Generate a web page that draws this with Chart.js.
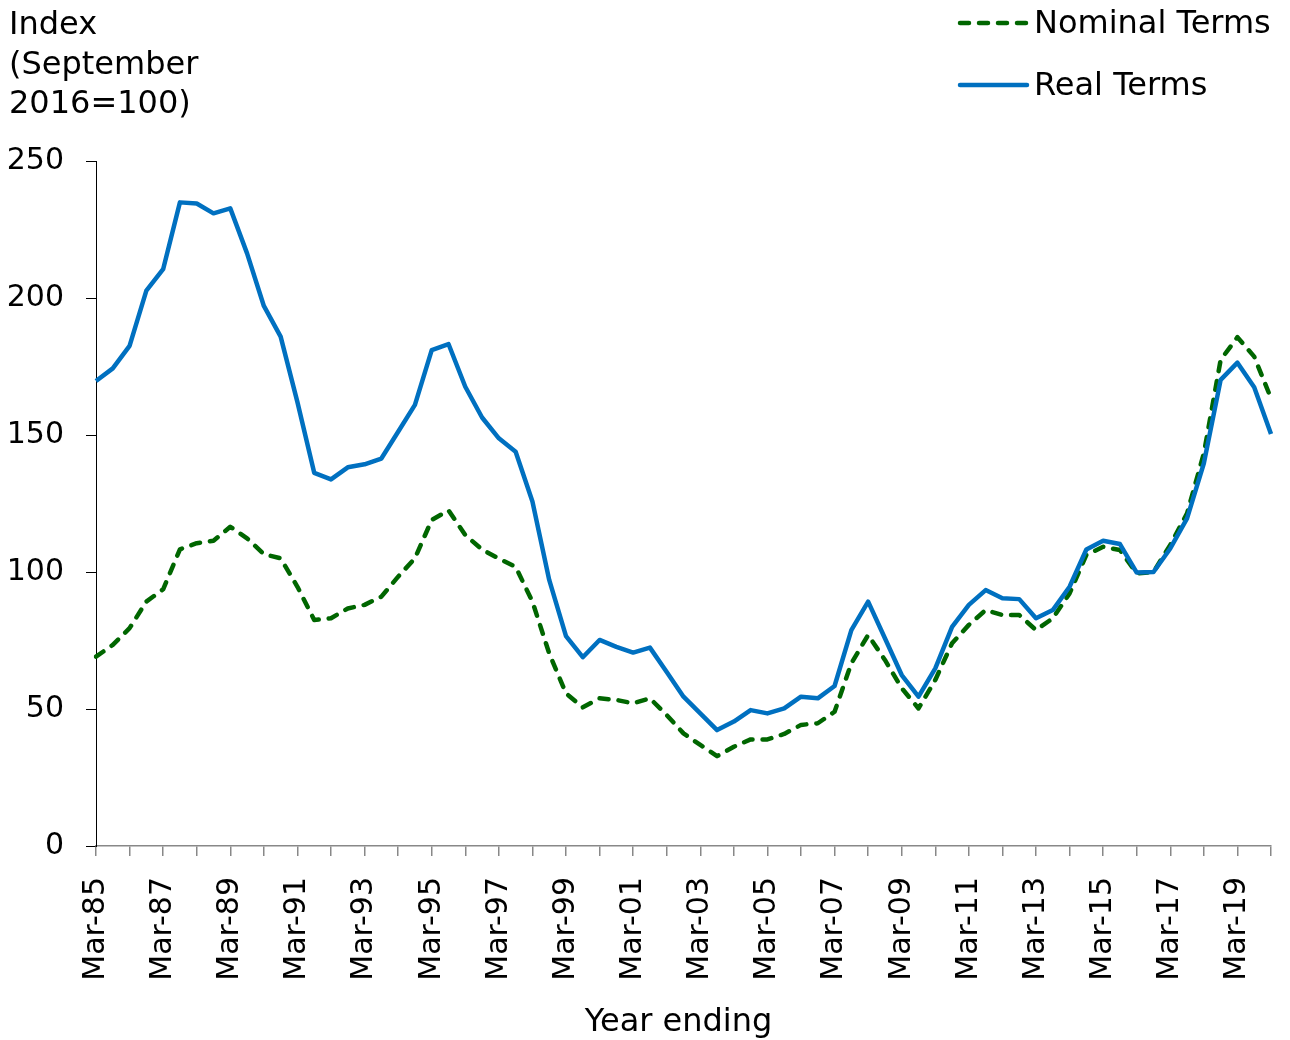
<!DOCTYPE html>
<html>
<head>
<meta charset="utf-8">
<script src="https://cdn.jsdelivr.net/npm/chart.js@4.4.1/dist/chart.umd.min.js"></script>
<style>
  body { margin: 0; background: #fff; }
  canvas { display: block; }
</style>
</head>
<body>
<canvas id="myChart" width="1290" height="1040"></canvas>
<script>
// half-yearly periods, Mar-85 .. Mar-20
let periods = [
  'Mar-85','Sep-85','Mar-86','Sep-86','Mar-87','Sep-87','Mar-88','Sep-88','Mar-89','Sep-89',
  'Mar-90','Sep-90','Mar-91','Sep-91','Mar-92','Sep-92','Mar-93','Sep-93','Mar-94','Sep-94',
  'Mar-95','Sep-95','Mar-96','Sep-96','Mar-97','Sep-97','Mar-98','Sep-98','Mar-99','Sep-99',
  'Mar-00','Sep-00','Mar-01','Sep-01','Mar-02','Sep-02','Mar-03','Sep-03','Mar-04','Sep-04',
  'Mar-05','Sep-05','Mar-06','Sep-06','Mar-07','Sep-07','Mar-08','Sep-08','Mar-09','Sep-09',
  'Mar-10','Sep-10','Mar-11','Sep-11','Mar-12','Sep-12','Mar-13','Sep-13','Mar-14','Sep-14',
  'Mar-15','Sep-15','Mar-16','Sep-16','Mar-17','Sep-17','Mar-18','Sep-18','Mar-19','Sep-19',
  'Mar-20'
];

let nominal = [
  69.1, 73.4, 79.5, 89.2, 93.7, 108.3, 110.5, 111.4, 116.5, 112.3,
  106.5, 105, 94.6, 82.5, 83.1, 86.7, 88, 91, 98.3, 105,
  119, 122.5, 113.5, 108.2, 104.9, 101.9, 89.2, 70.3, 55.7, 50.6,
  53.9, 53.3, 52.1, 53.9, 47.8, 41.1, 36.9, 32.8, 36.2, 38.9,
  38.9, 40.9, 44.2, 44.8, 49, 66.7, 77, 67.9, 57.6, 50.2,
  60.6, 74, 80.7, 86.1, 84.3, 84.3, 78.8, 83.1, 92.2, 106.2,
  109.2, 108, 99.5, 100, 109.9, 121.4, 143.3, 177.4, 185.7, 178.6,
  163.4
];

let real = [
  169.7, 174.3, 182.5, 202.7, 210.5, 234.9, 234.5, 230.9, 232.7, 216.3,
  197.1, 185.9, 162, 136.2, 133.8, 138.2, 139.3, 141.4, 151.2, 161,
  181, 183.2, 167.6, 156.4, 148.8, 143.9, 125.7, 97.1, 76.6, 68.9,
  75.2, 72.7, 70.6, 72.4, 63.5, 54.5, 48.4, 42.3, 45.4, 49.6,
  48.4, 50.2, 54.5, 53.9, 58.4, 78.8, 89.2, 75.8, 62.4, 54.5,
  64.8, 80, 88, 93.4, 90.4, 90.1, 83.1, 86.1, 94.6, 108.2,
  111.4, 110.2, 99.8, 100, 108.6, 119.6, 139.7, 170.1, 176.4, 167.4,
  150.4
];

let yTicks = [0, 50, 100, 150, 200, 250];
let yTitle = ['Index', '(September', '2016=100)'];
let xTitle = 'Year ending';

let FONT = 'DejaVu Sans';
let greenCol = '#006600';
let blueCol = '#0070C0';

Chart.defaults.font.family = FONT;
Chart.defaults.font.size = 30;
Chart.defaults.color = '#000';

// titles + legend drawn at fixed spots like the original
let decor = {
  id: 'decor',
  afterDraw(chart) {
    let ctx = chart.ctx;
    ctx.save();
    ctx.fillStyle = '#000';
    ctx.font = '32px "' + FONT + '"';
    ctx.textBaseline = 'middle';
    ctx.textAlign = 'left';
    yTitle.forEach((t, i) => ctx.fillText(t, 9, 26 + i * 39.5));

    ctx.textAlign = 'center';
    let a = chart.chartArea;
    ctx.fillText(xTitle, (a.left + a.right) / 2 - 5, 1023);

    // legend
    let items = [{ ds: chart.data.datasets[1], y: 23 }, { ds: chart.data.datasets[0], y: 85 }];
    items.forEach(it => {
      ctx.save();
      ctx.strokeStyle = it.ds.borderColor;
      ctx.lineWidth = it.ds.borderWidth;
      ctx.lineCap = 'round';
      if (it.ds.borderDash) ctx.setLineDash(it.ds.borderDash);
      ctx.beginPath();
      ctx.moveTo(960, it.y);
      ctx.lineTo(1027, it.y);
      ctx.stroke();
      ctx.restore();
      ctx.textAlign = 'left';
      ctx.fillText(it.ds.label, 1034, it.y + 2);
    });
    ctx.restore();
  }
};

let ctx = document.getElementById('myChart').getContext('2d');
let myChart = new Chart(ctx, {
  type: 'line',
  data: {
    labels: periods,
    datasets: [
      { label: 'Real Terms', data: real, borderColor: blueCol, borderWidth: 4.5,
        pointRadius: 0, tension: 0, order: 1, borderJoinStyle: 'round' },
      { label: 'Nominal Terms', data: nominal, borderColor: greenCol, borderWidth: 4.5,
        borderDash: [9, 10], borderCapStyle: 'round', borderJoinStyle: 'round',
        pointRadius: 0, tension: 0, order: 2 }
    ]
  },
  plugins: [decor],
  options: {
    responsive: false,
    animation: false,
    devicePixelRatio: 1,
    layout: { padding: { top: 161, right: 19, left: 0, bottom: 0 } },
    plugins: { legend: { display: false }, tooltip: { enabled: false } },
    scales: {
      x: {
        offset: false,
        afterFit: s => { s.height = 1040 - 846; s.paddingLeft = 0; s.paddingRight = 0; },
        afterBuildTicks: s => { s.ticks = s.ticks.filter(t => t.value % 2 === 0); },
        grid: { display: true, drawOnChartArea: false, drawTicks: true, tickLength: 10,
                color: '#888', lineWidth: 1.5 },
        border: { display: true, color: '#888', width: 1.5 },
        ticks: {
          autoSkip: false, minRotation: 90, maxRotation: 90, padding: 21,
          font: { size: 30 },
          callback: (v) => v % 4 === 0 ? periods[v] : ''
        }
      },
      y: {
        min: 0, max: 250,
        afterFit: s => { s.width = 96; },
        afterBuildTicks: s => { s.ticks = yTicks.map(v => ({ value: v })); },
        grid: { display: true, drawOnChartArea: false, drawTicks: true, tickLength: 10,
                color: '#000', lineWidth: 1 },
        border: { display: true, color: '#000', width: 1 },
        ticks: { padding: 22, font: { size: 30 } }
      }
    }
  }
});
</script>
</body>
</html>
